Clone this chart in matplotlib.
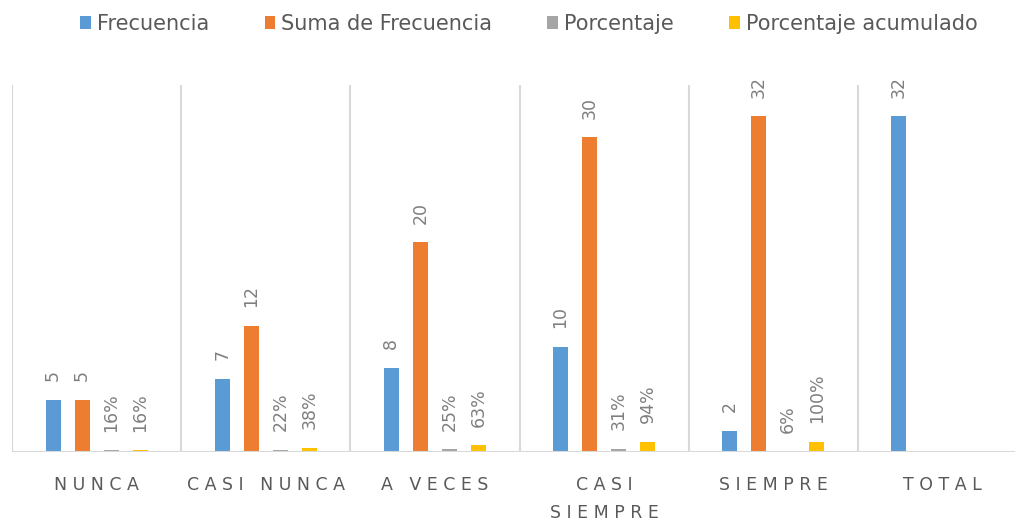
import numpy as np
import matplotlib
matplotlib.use("Agg")
import matplotlib.pyplot as plt
from matplotlib.patches import Patch

categorias = ["NUNCA", "CASI NUNCA", "A VECES", "CASI\nSIEMPRE", "SIEMPRE", "TOTAL"]
frecuencia = [5, 7, 8, 10, 2, 32]
suma_frecuencia = [5, 12, 20, 30, 32, None]
porcentaje = [0.16, 0.22, 0.25, 0.31, 0.06, None]
porcentaje_acum = [0.16, 0.38, 0.63, 0.94, 1.00, None]

colores = ["#5B9BD5", "#ED7D31", "#A5A5A5", "#FFC000"]
nombres = ["Frecuencia", "Suma de Frecuencia", "Porcentaje", "Porcentaje acumulado"]


def espaciar(texto):
    # letras separadas como en el original
    lineas = []
    for linea in texto.split("\n"):
        palabras = [" ".join(p) for p in linea.split(" ")]
        lineas.append("   ".join(palabras))
    return "\n".join(lineas)


fig = plt.figure(figsize=(10.15, 5.23), dpi=100)
ax = fig.add_axes([12 / 1015, 71 / 523, 1015 / 1015, 367 / 523])

x = np.arange(len(categorias))
paso = 29 / 169
ancho = 15 / 169
series = [frecuencia, suma_frecuencia, porcentaje, porcentaje_acum]

for i, (vals, col) in enumerate(zip(series, colores)):
    pos = x + (i - 1.5) * paso
    for xi, v in zip(pos, vals):
        if v is None:
            continue
        ax.bar(xi, v, width=ancho, color=col, zorder=3)
        if i >= 2:
            txt = f"{v:.0%}"
        else:
            txt = f"{v}"
        ax.annotate(txt, (xi, v), xytext=(0, 13.5), textcoords="offset points",
                    rotation=90, ha="center", va="bottom", fontsize=12.5, color="#7F7F7F")

ax.set_xlim(-0.5, len(categorias) - 0.5)
ax.set_ylim(0, 35)
for b in np.arange(-0.5, len(categorias), 1):
    ax.axvline(b, color="#D9D9D9", lw=1.5, zorder=1)
ax.axhline(0, color="#D9D9D9", lw=1.5, zorder=4)

for s in ax.spines.values():
    s.set_visible(False)
ax.set_yticks([])
ax.set_xticks(x)
ax.set_xticklabels([espaciar(c) for c in categorias], fontsize=12.5, color="#595959",
                   linespacing=1.7, va="top")
ax.tick_params(axis="x", length=0, pad=17.5)

handles = [Patch(facecolor=c, label=n) for c, n in zip(colores, nombres)]
fig.legend(handles=handles, loc="center", bbox_to_anchor=(529 / 1015, 1 - 24 / 523), ncol=4,
           frameon=False, fontsize=15, handlelength=0.5, handleheight=0.6,
           handletextpad=0.3, columnspacing=2.65, labelcolor="#595959")

fig.savefig("out.png", dpi=100)
